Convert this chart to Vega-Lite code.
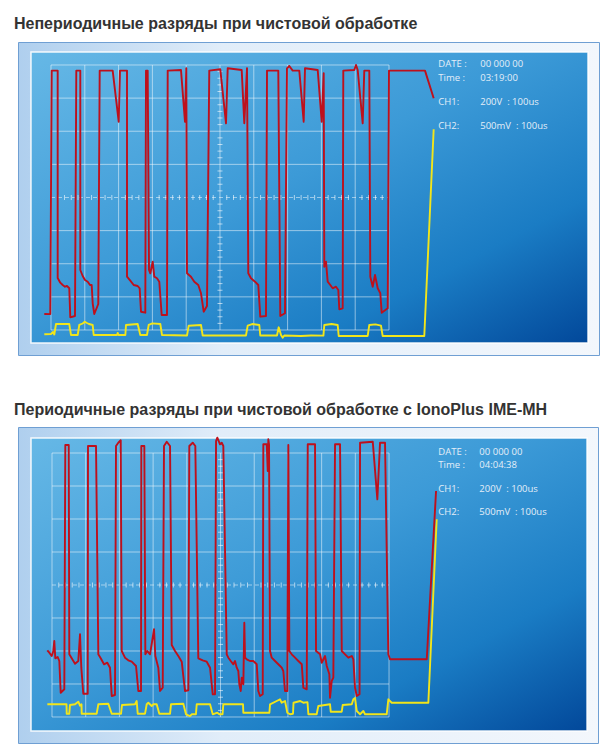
{
  "$schema": "https://vega.github.io/schema/vega-lite/v6.json",
  "background": "white",
  "padding": {"left": 13, "top": 15, "right": 8, "bottom": 8},
  "spacing": 45,
  "config": {
    "axis": {"disable": true},
    "text": {"align": "left", "baseline": "top", "font": "Open Sans", "fontSize": 9.5, "color": "#e4eef8"},
    "view": {
      "fill": {"gradient": "linear", "x1": 0, "y1": 0, "x2": 1, "y2": 0, "stops": [{"offset": 0, "color": "#afcfee"}, {"offset": 0.35, "color": "#e1edf9"}, {"offset": 1, "color": "#f3f7fc"}]},
      "stroke": "#6f9fd3",
      "strokeWidth": 1
    }
  },
  "datasets": {
    "vgrid": [{"g": 0}, {"g": 1}, {"g": 2}, {"g": 3}, {"g": 4}, {"g": 5}, {"g": 6}, {"g": 7}, {"g": 8}, {"g": 9}, {"g": 10}],
    "hgrid": [{"g": -4}, {"g": -3}, {"g": -2}, {"g": -1}, {"g": 1}, {"g": 2}, {"g": 3}, {"g": 4}],
    "xticks": [{"t": 0.2}, {"t": 0.4}, {"t": 0.6}, {"t": 0.8}, {"t": 1.2}, {"t": 1.4}, {"t": 1.6}, {"t": 1.8}, {"t": 2.2}, {"t": 2.4}, {"t": 2.6}, {"t": 2.8}, {"t": 3.2}, {"t": 3.4}, {"t": 3.6}, {"t": 3.8}, {"t": 4.2}, {"t": 4.4}, {"t": 4.6}, {"t": 4.8}, {"t": 5.2}, {"t": 5.4}, {"t": 5.6}, {"t": 5.8}, {"t": 6.2}, {"t": 6.4}, {"t": 6.6}, {"t": 6.8}, {"t": 7.2}, {"t": 7.4}, {"t": 7.6}, {"t": 7.8}, {"t": 8.2}, {"t": 8.4}, {"t": 8.6}, {"t": 8.8}, {"t": 9.2}, {"t": 9.4}, {"t": 9.6}, {"t": 9.8}],
    "yticks": [{"v": -3.8}, {"v": -3.6}, {"v": -3.4}, {"v": -3.2}, {"v": -2.8}, {"v": -2.6}, {"v": -2.4}, {"v": -2.2}, {"v": -1.8}, {"v": -1.6}, {"v": -1.4}, {"v": -1.2}, {"v": -0.8}, {"v": -0.6}, {"v": -0.4}, {"v": -0.2}, {"v": 0.2}, {"v": 0.4}, {"v": 0.6}, {"v": 0.8}, {"v": 1.2}, {"v": 1.4}, {"v": 1.6}, {"v": 1.8}, {"v": 2.2}, {"v": 2.4}, {"v": 2.6}, {"v": 2.8}, {"v": 3.2}, {"v": 3.4}, {"v": 3.6}, {"v": 3.8}],
    "trace1": [
      {"ch": "CH2", "t": -0.198, "v": -4.13}, {"ch": "CH2", "t": 0, "v": -4.12}, {"ch": "CH2", "t": 0.059, "v": -4.06}, {"ch": "CH2", "t": 0.098, "v": -4.136}, {"ch": "CH2", "t": 0.148, "v": -3.819}, {"ch": "CH2", "t": 0.541, "v": -3.819}, {"ch": "CH2", "t": 0.592, "v": -4.151}, {"ch": "CH2", "t": 0.79, "v": -4.151}, {"ch": "CH2", "t": 0.837, "v": -3.849}, {"ch": "CH2", "t": 0.938, "v": -3.804}, {"ch": "CH2", "t": 1.0, "v": -3.75}, {"ch": "CH2", "t": 1.065, "v": -3.789}, {"ch": "CH2", "t": 1.124, "v": -3.819}, {"ch": "CH2", "t": 1.234, "v": -3.849}, {"ch": "CH2", "t": 1.263, "v": -4.151}, {"ch": "CH2", "t": 1.953, "v": -4.151}, {"ch": "CH2", "t": 1.973, "v": -4.09}, {"ch": "CH2", "t": 1.997, "v": -4.151}, {"ch": "CH2", "t": 2.2, "v": -4.151}, {"ch": "CH2", "t": 2.219, "v": -3.849}, {"ch": "CH2", "t": 2.565, "v": -3.819}, {"ch": "CH2", "t": 2.642, "v": -4.151}, {"ch": "CH2", "t": 2.84, "v": -4.151}, {"ch": "CH2", "t": 2.891, "v": -3.849}, {"ch": "CH2", "t": 3.0, "v": -3.8}, {"ch": "CH2", "t": 3.234, "v": -3.819}, {"ch": "CH2", "t": 3.284, "v": -4.151}, {"ch": "CH2", "t": 4.024, "v": -4.166}, {"ch": "CH2", "t": 4.074, "v": -3.87}, {"ch": "CH2", "t": 4.438, "v": -3.849}, {"ch": "CH2", "t": 4.488, "v": -4.166}, {"ch": "CH2", "t": 5.769, "v": -4.166}, {"ch": "CH2", "t": 5.82, "v": -3.87}, {"ch": "CH2", "t": 5.95, "v": -3.82}, {"ch": "CH2", "t": 6.163, "v": -3.849}, {"ch": "CH2", "t": 6.192, "v": -4.166}, {"ch": "CH2", "t": 6.686, "v": -4.166}, {"ch": "CH2", "t": 6.737, "v": -3.919}, {"ch": "CH2", "t": 6.805, "v": -4.151}, {"ch": "CH2", "t": 6.855, "v": -4.232}, {"ch": "CH2", "t": 6.902, "v": -4.166}, {"ch": "CH2", "t": 7.396, "v": -4.181}, {"ch": "CH2", "t": 7.692, "v": -4.166}, {"ch": "CH2", "t": 8.06, "v": -4.17}, {"ch": "CH2", "t": 8.086, "v": -3.849}, {"ch": "CH2", "t": 8.3, "v": -3.82}, {"ch": "CH2", "t": 8.482, "v": -3.849}, {"ch": "CH2", "t": 8.512, "v": -4.181}, {"ch": "CH2", "t": 9.37, "v": -4.181}, {"ch": "CH2", "t": 9.417, "v": -3.849}, {"ch": "CH2", "t": 9.6, "v": -3.83}, {"ch": "CH2", "t": 9.763, "v": -3.87}, {"ch": "CH2", "t": 9.813, "v": -4.181}, {"ch": "CH2", "t": 11.044, "v": -4.181}, {"ch": "CH2", "t": 11.322, "v": 2.059},
      {"ch": "CH1", "t": -0.198, "v": -3.517}, {"ch": "CH1", "t": -0.021, "v": -3.52}, {"ch": "CH1", "t": 0.021, "v": 3.83}, {"ch": "CH1", "t": 0.198, "v": 3.83}, {"ch": "CH1", "t": 0.198, "v": -2.43}, {"ch": "CH1", "t": 0.275, "v": -2.572}, {"ch": "CH1", "t": 0.346, "v": -2.642}, {"ch": "CH1", "t": 0.414, "v": -2.693}, {"ch": "CH1", "t": 0.473, "v": -2.672}, {"ch": "CH1", "t": 0.541, "v": -2.741}, {"ch": "CH1", "t": 0.571, "v": -3.617}, {"ch": "CH1", "t": 0.71, "v": -3.577}, {"ch": "CH1", "t": 0.749, "v": 3.83}, {"ch": "CH1", "t": 0.867, "v": 3.83}, {"ch": "CH1", "t": 0.867, "v": -2.189}, {"ch": "CH1", "t": 0.938, "v": -2.37}, {"ch": "CH1", "t": 1.006, "v": -2.491}, {"ch": "CH1", "t": 1.086, "v": -2.542}, {"ch": "CH1", "t": 1.154, "v": -2.642}, {"ch": "CH1", "t": 1.204, "v": -2.642}, {"ch": "CH1", "t": 1.234, "v": -3.194}, {"ch": "CH1", "t": 1.281, "v": -3.517}, {"ch": "CH1", "t": 1.399, "v": -3.215}, {"ch": "CH1", "t": 1.441, "v": 3.83}, {"ch": "CH1", "t": 1.825, "v": 3.83}, {"ch": "CH1", "t": 2.003, "v": 2.288}, {"ch": "CH1", "t": 2.041, "v": 3.83}, {"ch": "CH1", "t": 2.249, "v": 3.83}, {"ch": "CH1", "t": 2.249, "v": -2.391}, {"ch": "CH1", "t": 2.346, "v": -2.512}, {"ch": "CH1", "t": 2.447, "v": -2.642}, {"ch": "CH1", "t": 2.565, "v": -2.672}, {"ch": "CH1", "t": 2.624, "v": -2.741}, {"ch": "CH1", "t": 2.663, "v": -3.448}, {"ch": "CH1", "t": 2.79, "v": -3.478}, {"ch": "CH1", "t": 2.811, "v": 3.83}, {"ch": "CH1", "t": 2.861, "v": 3.83}, {"ch": "CH1", "t": 2.9, "v": -2.189}, {"ch": "CH1", "t": 2.938, "v": -2.288}, {"ch": "CH1", "t": 3.009, "v": -1.938}, {"ch": "CH1", "t": 3.056, "v": -2.391}, {"ch": "CH1", "t": 3.136, "v": -2.439}, {"ch": "CH1", "t": 3.204, "v": -2.542}, {"ch": "CH1", "t": 3.275, "v": -3.547}, {"ch": "CH1", "t": 3.432, "v": -3.547}, {"ch": "CH1", "t": 3.453, "v": 3.83}, {"ch": "CH1", "t": 3.846, "v": 3.849}, {"ch": "CH1", "t": 3.964, "v": 2.288}, {"ch": "CH1", "t": 4.003, "v": 3.9}, {"ch": "CH1", "t": 4.024, "v": -2.288}, {"ch": "CH1", "t": 4.142, "v": -2.391}, {"ch": "CH1", "t": 4.24, "v": -2.542}, {"ch": "CH1", "t": 4.358, "v": -2.642}, {"ch": "CH1", "t": 4.438, "v": -2.892}, {"ch": "CH1", "t": 4.518, "v": -3.448}, {"ch": "CH1", "t": 4.615, "v": -3.276}, {"ch": "CH1", "t": 4.683, "v": 3.83}, {"ch": "CH1", "t": 5.009, "v": 3.87}, {"ch": "CH1", "t": 5.178, "v": 2.24}, {"ch": "CH1", "t": 5.228, "v": 3.9}, {"ch": "CH1", "t": 5.642, "v": 3.849}, {"ch": "CH1", "t": 5.719, "v": 2.24}, {"ch": "CH1", "t": 5.799, "v": 3.9}, {"ch": "CH1", "t": 5.837, "v": -2.288}, {"ch": "CH1", "t": 5.917, "v": -2.439}, {"ch": "CH1", "t": 6.036, "v": -2.542}, {"ch": "CH1", "t": 6.133, "v": -2.642}, {"ch": "CH1", "t": 6.192, "v": -3.598}, {"ch": "CH1", "t": 6.361, "v": -3.577}, {"ch": "CH1", "t": 6.391, "v": 3.83}, {"ch": "CH1", "t": 6.725, "v": 3.83}, {"ch": "CH1", "t": 6.784, "v": -3.577}, {"ch": "CH1", "t": 6.923, "v": -3.496}, {"ch": "CH1", "t": 6.982, "v": 3.9}, {"ch": "CH1", "t": 7.05, "v": 3.97}, {"ch": "CH1", "t": 7.151, "v": 3.83}, {"ch": "CH1", "t": 7.346, "v": 3.83}, {"ch": "CH1", "t": 7.476, "v": 2.288}, {"ch": "CH1", "t": 7.515, "v": 3.9}, {"ch": "CH1", "t": 7.891, "v": 3.849}, {"ch": "CH1", "t": 8.009, "v": 2.288}, {"ch": "CH1", "t": 8.068, "v": 3.749}, {"ch": "CH1", "t": 8.086, "v": -2.089}, {"ch": "CH1", "t": 8.136, "v": -1.938}, {"ch": "CH1", "t": 8.186, "v": -2.542}, {"ch": "CH1", "t": 8.263, "v": -2.642}, {"ch": "CH1", "t": 8.334, "v": -2.741}, {"ch": "CH1", "t": 8.432, "v": -2.693}, {"ch": "CH1", "t": 8.5, "v": -2.792}, {"ch": "CH1", "t": 8.53, "v": -3.375}, {"ch": "CH1", "t": 8.63, "v": -3.345}, {"ch": "CH1", "t": 8.648, "v": 3.83}, {"ch": "CH1", "t": 8.973, "v": 3.849}, {"ch": "CH1", "t": 9.024, "v": 4.0}, {"ch": "CH1", "t": 9.074, "v": 3.849}, {"ch": "CH1", "t": 9.222, "v": 2.24}, {"ch": "CH1", "t": 9.269, "v": 3.83}, {"ch": "CH1", "t": 9.417, "v": 3.83}, {"ch": "CH1", "t": 9.447, "v": -2.391}, {"ch": "CH1", "t": 9.518, "v": -2.693}, {"ch": "CH1", "t": 9.586, "v": -2.34}, {"ch": "CH1", "t": 9.666, "v": -2.741}, {"ch": "CH1", "t": 9.743, "v": -2.892}, {"ch": "CH1", "t": 9.784, "v": -3.478}, {"ch": "CH1", "t": 9.962, "v": -3.345}, {"ch": "CH1", "t": 10.0, "v": 3.83}, {"ch": "CH1", "t": 11.065, "v": 3.83}, {"ch": "CH1", "t": 11.322, "v": 2.995}
    ],
    "trace2": [
      {"ch": "CH2", "t": -0.139, "v": -3.615}, {"ch": "CH2", "t": 0.43, "v": -3.615}, {"ch": "CH2", "t": 0.436, "v": -3.9}, {"ch": "CH2", "t": 0.513, "v": -3.9}, {"ch": "CH2", "t": 0.534, "v": -3.636}, {"ch": "CH2", "t": 0.683, "v": -3.615}, {"ch": "CH2", "t": 0.78, "v": -3.536}, {"ch": "CH2", "t": 0.831, "v": -3.658}, {"ch": "CH2", "t": 0.875, "v": -3.615}, {"ch": "CH2", "t": 0.881, "v": -3.9}, {"ch": "CH2", "t": 1.326, "v": -3.9}, {"ch": "CH2", "t": 1.374, "v": -3.615}, {"ch": "CH2", "t": 1.671, "v": -3.597}, {"ch": "CH2", "t": 1.772, "v": -3.9}, {"ch": "CH2", "t": 2.048, "v": -3.9}, {"ch": "CH2", "t": 2.077, "v": -3.636}, {"ch": "CH2", "t": 2.463, "v": -3.615}, {"ch": "CH2", "t": 2.513, "v": -3.515}, {"ch": "CH2", "t": 2.543, "v": -3.9}, {"ch": "CH2", "t": 2.76, "v": -3.9}, {"ch": "CH2", "t": 2.81, "v": -3.615}, {"ch": "CH2", "t": 2.858, "v": -3.567}, {"ch": "CH2", "t": 2.958, "v": -3.667}, {"ch": "CH2", "t": 3.006, "v": -3.615}, {"ch": "CH2", "t": 3.106, "v": -3.615}, {"ch": "CH2", "t": 3.184, "v": -3.9}, {"ch": "CH2", "t": 3.502, "v": -3.9}, {"ch": "CH2", "t": 3.531, "v": -3.615}, {"ch": "CH2", "t": 3.896, "v": -3.597}, {"ch": "CH2", "t": 3.976, "v": -3.918}, {"ch": "CH2", "t": 4.095, "v": -3.97}, {"ch": "CH2", "t": 4.145, "v": -3.918}, {"ch": "CH2", "t": 4.27, "v": -3.918}, {"ch": "CH2", "t": 4.294, "v": -3.615}, {"ch": "CH2", "t": 4.689, "v": -3.615}, {"ch": "CH2", "t": 4.769, "v": -3.918}, {"ch": "CH2", "t": 4.905, "v": -3.87}, {"ch": "CH2", "t": 4.965, "v": -3.918}, {"ch": "CH2", "t": 5.06, "v": -3.918}, {"ch": "CH2", "t": 5.083, "v": -3.615}, {"ch": "CH2", "t": 5.667, "v": -3.615}, {"ch": "CH2", "t": 5.677, "v": -3.87}, {"ch": "CH2", "t": 6.121, "v": -3.87}, {"ch": "CH2", "t": 6.45, "v": -3.87}, {"ch": "CH2", "t": 6.469, "v": -3.615}, {"ch": "CH2", "t": 6.667, "v": -3.515}, {"ch": "CH2", "t": 6.765, "v": -3.464}, {"ch": "CH2", "t": 6.816, "v": -3.567}, {"ch": "CH2", "t": 6.914, "v": -3.515}, {"ch": "CH2", "t": 6.982, "v": -3.87}, {"ch": "CH2", "t": 7.062, "v": -3.918}, {"ch": "CH2", "t": 7.15, "v": -3.9}, {"ch": "CH2", "t": 7.166, "v": -3.567}, {"ch": "CH2", "t": 7.364, "v": -3.515}, {"ch": "CH2", "t": 7.457, "v": -3.567}, {"ch": "CH2", "t": 7.58, "v": -3.55}, {"ch": "CH2", "t": 7.606, "v": -3.918}, {"ch": "CH2", "t": 7.853, "v": -3.918}, {"ch": "CH2", "t": 7.902, "v": -3.667}, {"ch": "CH2", "t": 8.249, "v": -3.615}, {"ch": "CH2", "t": 8.27, "v": -3.839}, {"ch": "CH2", "t": 8.597, "v": -3.839}, {"ch": "CH2", "t": 8.626, "v": -3.636}, {"ch": "CH2", "t": 8.894, "v": -3.615}, {"ch": "CH2", "t": 8.941, "v": -3.464}, {"ch": "CH2", "t": 8.991, "v": -3.424}, {"ch": "CH2", "t": 9.042, "v": -3.818}, {"ch": "CH2", "t": 9.14, "v": -3.918}, {"ch": "CH2", "t": 9.237, "v": -3.818}, {"ch": "CH2", "t": 9.288, "v": -3.918}, {"ch": "CH2", "t": 9.931, "v": -3.918}, {"ch": "CH2", "t": 9.979, "v": -3.464}, {"ch": "CH2", "t": 10.08, "v": -3.567}, {"ch": "CH2", "t": 11.166, "v": -3.567}, {"ch": "CH2", "t": 11.414, "v": 1.991},
      {"ch": "CH1", "t": -0.139, "v": -1.979}, {"ch": "CH1", "t": -0.08, "v": -2.052}, {"ch": "CH1", "t": -0.009, "v": -2.152}, {"ch": "CH1", "t": 0.039, "v": -2.0}, {"ch": "CH1", "t": 0.068, "v": -1.697}, {"ch": "CH1", "t": 0.098, "v": -2.221}, {"ch": "CH1", "t": 0.169, "v": -2.182}, {"ch": "CH1", "t": 0.217, "v": -2.303}, {"ch": "CH1", "t": 0.258, "v": -3.264}, {"ch": "CH1", "t": 0.365, "v": -3.161}, {"ch": "CH1", "t": 0.395, "v": 4.242}, {"ch": "CH1", "t": 0.496, "v": 4.242}, {"ch": "CH1", "t": 0.513, "v": -2.1}, {"ch": "CH1", "t": 0.585, "v": -2.221}, {"ch": "CH1", "t": 0.683, "v": -2.385}, {"ch": "CH1", "t": 0.78, "v": -2.303}, {"ch": "CH1", "t": 0.831, "v": -1.494}, {"ch": "CH1", "t": 0.869, "v": -2.506}, {"ch": "CH1", "t": 0.929, "v": -3.294}, {"ch": "CH1", "t": 1.059, "v": -3.294}, {"ch": "CH1", "t": 1.068, "v": 4.212}, {"ch": "CH1", "t": 1.306, "v": 4.212}, {"ch": "CH1", "t": 1.374, "v": -2.1}, {"ch": "CH1", "t": 1.445, "v": -2.221}, {"ch": "CH1", "t": 1.543, "v": -2.403}, {"ch": "CH1", "t": 1.641, "v": -2.355}, {"ch": "CH1", "t": 1.721, "v": -2.506}, {"ch": "CH1", "t": 1.772, "v": -3.364}, {"ch": "CH1", "t": 1.869, "v": -3.333}, {"ch": "CH1", "t": 1.899, "v": 4.212}, {"ch": "CH1", "t": 1.967, "v": 4.312}, {"ch": "CH1", "t": 2.039, "v": 4.385}, {"ch": "CH1", "t": 2.068, "v": -2.0}, {"ch": "CH1", "t": 2.166, "v": -2.203}, {"ch": "CH1", "t": 2.264, "v": -2.282}, {"ch": "CH1", "t": 2.365, "v": -2.324}, {"ch": "CH1", "t": 2.493, "v": -2.455}, {"ch": "CH1", "t": 2.561, "v": -3.212}, {"ch": "CH1", "t": 2.641, "v": -3.212}, {"ch": "CH1", "t": 2.65, "v": 4.212}, {"ch": "CH1", "t": 2.739, "v": 4.212}, {"ch": "CH1", "t": 2.769, "v": -2.1}, {"ch": "CH1", "t": 2.828, "v": -2.0}, {"ch": "CH1", "t": 2.908, "v": -2.1}, {"ch": "CH1", "t": 3.027, "v": -1.342}, {"ch": "CH1", "t": 3.065, "v": -2.152}, {"ch": "CH1", "t": 3.154, "v": -2.506}, {"ch": "CH1", "t": 3.205, "v": -3.212}, {"ch": "CH1", "t": 3.285, "v": -3.112}, {"ch": "CH1", "t": 3.323, "v": 4.212}, {"ch": "CH1", "t": 3.404, "v": 4.342}, {"ch": "CH1", "t": 3.502, "v": 4.212}, {"ch": "CH1", "t": 3.552, "v": -1.818}, {"ch": "CH1", "t": 3.65, "v": -2.0}, {"ch": "CH1", "t": 3.748, "v": -2.152}, {"ch": "CH1", "t": 3.849, "v": -2.324}, {"ch": "CH1", "t": 3.896, "v": -2.758}, {"ch": "CH1", "t": 3.947, "v": -3.212}, {"ch": "CH1", "t": 4.045, "v": -3.191}, {"ch": "CH1", "t": 4.074, "v": 4.212}, {"ch": "CH1", "t": 4.175, "v": 4.312}, {"ch": "CH1", "t": 4.252, "v": 4.212}, {"ch": "CH1", "t": 4.341, "v": -2.221}, {"ch": "CH1", "t": 4.472, "v": -2.282}, {"ch": "CH1", "t": 4.591, "v": -2.324}, {"ch": "CH1", "t": 4.689, "v": -2.506}, {"ch": "CH1", "t": 4.769, "v": -3.312}, {"ch": "CH1", "t": 4.837, "v": -3.312}, {"ch": "CH1", "t": 4.867, "v": 4.364}, {"ch": "CH1", "t": 4.905, "v": 4.464}, {"ch": "CH1", "t": 4.985, "v": 4.264}, {"ch": "CH1", "t": 5.036, "v": 4.312}, {"ch": "CH1", "t": 5.083, "v": 4.212}, {"ch": "CH1", "t": 5.184, "v": -2.1}, {"ch": "CH1", "t": 5.232, "v": -2.203}, {"ch": "CH1", "t": 5.303, "v": -2.303}, {"ch": "CH1", "t": 5.38, "v": -2.403}, {"ch": "CH1", "t": 5.43, "v": -2.303}, {"ch": "CH1", "t": 5.481, "v": -2.506}, {"ch": "CH1", "t": 5.528, "v": -2.606}, {"ch": "CH1", "t": 5.558, "v": -3.009}, {"ch": "CH1", "t": 5.6, "v": -3.212}, {"ch": "CH1", "t": 5.629, "v": -2.809}, {"ch": "CH1", "t": 5.677, "v": -3.009}, {"ch": "CH1", "t": 5.706, "v": -1.142}, {"ch": "CH1", "t": 5.727, "v": -2.203}, {"ch": "CH1", "t": 5.778, "v": -2.252}, {"ch": "CH1", "t": 5.875, "v": -2.303}, {"ch": "CH1", "t": 5.973, "v": -2.303}, {"ch": "CH1", "t": 6.074, "v": -2.403}, {"ch": "CH1", "t": 6.121, "v": -3.212}, {"ch": "CH1", "t": 6.172, "v": -3.364}, {"ch": "CH1", "t": 6.252, "v": -3.312}, {"ch": "CH1", "t": 6.27, "v": 4.264}, {"ch": "CH1", "t": 6.371, "v": 4.264}, {"ch": "CH1", "t": 6.401, "v": 3.455}, {"ch": "CH1", "t": 6.418, "v": 4.415}, {"ch": "CH1", "t": 6.439, "v": 4.264}, {"ch": "CH1", "t": 6.469, "v": -2.0}, {"ch": "CH1", "t": 6.519, "v": -2.203}, {"ch": "CH1", "t": 6.617, "v": -2.303}, {"ch": "CH1", "t": 6.715, "v": -2.403}, {"ch": "CH1", "t": 6.816, "v": -2.506}, {"ch": "CH1", "t": 6.863, "v": -2.606}, {"ch": "CH1", "t": 6.913, "v": -3.212}, {"ch": "CH1", "t": 6.982, "v": -3.212}, {"ch": "CH1", "t": 7.012, "v": 4.242}, {"ch": "CH1", "t": 7.042, "v": -2.0}, {"ch": "CH1", "t": 7.113, "v": -2.1}, {"ch": "CH1", "t": 7.211, "v": -2.203}, {"ch": "CH1", "t": 7.309, "v": -2.303}, {"ch": "CH1", "t": 7.41, "v": -2.403}, {"ch": "CH1", "t": 7.457, "v": -3.112}, {"ch": "CH1", "t": 7.558, "v": -3.161}, {"ch": "CH1", "t": 7.588, "v": 4.264}, {"ch": "CH1", "t": 7.804, "v": 4.264}, {"ch": "CH1", "t": 7.834, "v": -2.0}, {"ch": "CH1", "t": 7.953, "v": -2.1}, {"ch": "CH1", "t": 8.003, "v": -2.355}, {"ch": "CH1", "t": 8.101, "v": -2.152}, {"ch": "CH1", "t": 8.152, "v": -2.455}, {"ch": "CH1", "t": 8.229, "v": -2.706}, {"ch": "CH1", "t": 8.249, "v": -3.415}, {"ch": "CH1", "t": 8.3, "v": -2.909}, {"ch": "CH1", "t": 8.347, "v": -2.809}, {"ch": "CH1", "t": 8.398, "v": 4.264}, {"ch": "CH1", "t": 8.546, "v": 4.264}, {"ch": "CH1", "t": 8.597, "v": -2.0}, {"ch": "CH1", "t": 8.695, "v": -2.1}, {"ch": "CH1", "t": 8.793, "v": -2.203}, {"ch": "CH1", "t": 8.894, "v": -2.152}, {"ch": "CH1", "t": 8.941, "v": -2.252}, {"ch": "CH1", "t": 8.991, "v": -3.112}, {"ch": "CH1", "t": 9.042, "v": -3.364}, {"ch": "CH1", "t": 9.125, "v": -3.312}, {"ch": "CH1", "t": 9.14, "v": 4.312}, {"ch": "CH1", "t": 9.517, "v": 4.342}, {"ch": "CH1", "t": 9.653, "v": 2.597}, {"ch": "CH1", "t": 9.733, "v": 4.312}, {"ch": "CH1", "t": 9.881, "v": 4.312}, {"ch": "CH1", "t": 9.979, "v": -2.1}, {"ch": "CH1", "t": 10.03, "v": -2.252}, {"ch": "CH1", "t": 11.119, "v": -2.252}, {"ch": "CH1", "t": 11.395, "v": 2.848}
    ]
  },
  "vconcat": [
    {
      "title": {"text": "Непериодичные разряды при чистовой обработке", "anchor": "start", "dx": -4, "offset": 10, "fontSize": 16, "font": "Liberation Sans", "fontWeight": "bold", "color": "#333333"},
      "width": 581,
      "height": 313,
      "layer": [
        {
          "data": {"values": [{}]},
          "mark": {"type": "rect", "fill": {"gradient": "linear", "x1": 0, "y1": 0, "x2": 1, "y2": 1, "stops": [{"offset": 0, "color": "#66b8e6"}, {"offset": 0.45, "color": "#3c9ad7"}, {"offset": 0.75, "color": "#1a7cc4"}, {"offset": 1, "color": "#02489a"}]}, "stroke": "#ffffff", "strokeWidth": 1.5, "strokeOpacity": 0.9},
          "encoding": {
            "x": {"datum": -0.592, "type": "quantitative", "scale": {"domain": [-0.976, 16.213], "nice": false, "zero": false}, "axis": null},
            "x2": {"datum": 15.888},
            "y": {"datum": -4.392, "type": "quantitative", "scale": {"domain": [-4.755, 4.694], "nice": false, "zero": false}, "axis": null},
            "y2": {"datum": 4.392}
          }
        },
        {
          "data": {"name": "vgrid"},
          "mark": {"type": "rule", "color": "#ffffff", "opacity": 0.5, "strokeWidth": 1},
          "encoding": {
            "x": {"field": "g", "type": "quantitative", "scale": {"domain": [-0.976, 16.213], "nice": false, "zero": false}},
            "y": {"datum": -4, "type": "quantitative", "scale": {"domain": [-4.755, 4.694], "nice": false, "zero": false}},
            "y2": {"datum": 4}
          }
        },
        {
          "data": {"name": "hgrid"},
          "mark": {"type": "rule", "color": "#ffffff", "opacity": 0.5, "strokeWidth": 1},
          "encoding": {
            "y": {"field": "g", "type": "quantitative", "scale": {"domain": [-4.755, 4.694], "nice": false, "zero": false}},
            "x": {"datum": 0, "type": "quantitative", "scale": {"domain": [-0.976, 16.213], "nice": false, "zero": false}},
            "x2": {"datum": 10}
          }
        },
        {
          "data": {"values": [{}]},
          "mark": {"type": "rule", "color": "#ffffff", "opacity": 0.5, "strokeWidth": 1, "strokeDash": [4, 3]},
          "encoding": {
            "y": {"datum": 0, "type": "quantitative", "scale": {"domain": [-4.755, 4.694], "nice": false, "zero": false}},
            "x": {"datum": 0, "type": "quantitative", "scale": {"domain": [-0.976, 16.213], "nice": false, "zero": false}},
            "x2": {"datum": 10}
          }
        },
        {
          "data": {"name": "xticks"},
          "mark": {"type": "tick", "orient": "vertical", "size": 5, "thickness": 1, "color": "#ffffff", "opacity": 0.6},
          "encoding": {
            "x": {"field": "t", "type": "quantitative", "scale": {"domain": [-0.976, 16.213], "nice": false, "zero": false}},
            "y": {"datum": 0, "type": "quantitative", "scale": {"domain": [-4.755, 4.694], "nice": false, "zero": false}}
          }
        },
        {
          "data": {"name": "yticks"},
          "mark": {"type": "tick", "orient": "horizontal", "size": 5, "thickness": 1, "color": "#ffffff", "opacity": 0.6},
          "encoding": {
            "y": {"field": "v", "type": "quantitative", "scale": {"domain": [-4.755, 4.694], "nice": false, "zero": false}},
            "x": {"datum": 5, "type": "quantitative", "scale": {"domain": [-0.976, 16.213], "nice": false, "zero": false}}
          }
        },
        {
          "data": {"name": "trace1"},
          "mark": {"type": "line", "strokeWidth": 1.9, "strokeJoin": "round"},
          "encoding": {
            "x": {"field": "t", "type": "quantitative", "scale": {"domain": [-0.976, 16.213], "nice": false, "zero": false}},
            "y": {"field": "v", "type": "quantitative", "scale": {"domain": [-4.755, 4.694], "nice": false, "zero": false}},
            "color": {"field": "ch", "type": "nominal", "scale": {"domain": ["CH2", "CH1"], "range": ["#f2e51a", "#be101c"]}, "legend": null},
            "order": {"value": null}
          }
        },
        {
          "data": {"values": [{}]},
          "mark": {"type": "text", "text": "DATE :"},
          "encoding": {
            "x": {"datum": 11.46, "type": "quantitative", "scale": {"domain": [-0.976, 16.213], "nice": false, "zero": false}},
            "y": {"datum": 4.17, "type": "quantitative", "scale": {"domain": [-4.755, 4.694], "nice": false, "zero": false}}
          }
        },
        {
          "data": {"values": [{}]},
          "mark": {"type": "text", "text": "00 000 00"},
          "encoding": {
            "x": {"datum": 12.70, "type": "quantitative", "scale": {"domain": [-0.976, 16.213], "nice": false, "zero": false}},
            "y": {"datum": 4.17, "type": "quantitative", "scale": {"domain": [-4.755, 4.694], "nice": false, "zero": false}}
          }
        },
        {
          "data": {"values": [{}]},
          "mark": {"type": "text", "text": "Time :"},
          "encoding": {
            "x": {"datum": 11.46, "type": "quantitative", "scale": {"domain": [-0.976, 16.213], "nice": false, "zero": false}},
            "y": {"datum": 3.755, "type": "quantitative", "scale": {"domain": [-4.755, 4.694], "nice": false, "zero": false}}
          }
        },
        {
          "data": {"values": [{}]},
          "mark": {"type": "text", "text": "03:19:00"},
          "encoding": {
            "x": {"datum": 12.70, "type": "quantitative", "scale": {"domain": [-0.976, 16.213], "nice": false, "zero": false}},
            "y": {"datum": 3.755, "type": "quantitative", "scale": {"domain": [-4.755, 4.694], "nice": false, "zero": false}}
          }
        },
        {
          "data": {"values": [{}]},
          "mark": {"type": "text", "text": "CH1:"},
          "encoding": {
            "x": {"datum": 11.46, "type": "quantitative", "scale": {"domain": [-0.976, 16.213], "nice": false, "zero": false}},
            "y": {"datum": 3.043, "type": "quantitative", "scale": {"domain": [-4.755, 4.694], "nice": false, "zero": false}}
          }
        },
        {
          "data": {"values": [{}]},
          "mark": {"type": "text", "text": "200V\u00a0\u00a0: 100us"},
          "encoding": {
            "x": {"datum": 12.70, "type": "quantitative", "scale": {"domain": [-0.976, 16.213], "nice": false, "zero": false}},
            "y": {"datum": 3.043, "type": "quantitative", "scale": {"domain": [-4.755, 4.694], "nice": false, "zero": false}}
          }
        },
        {
          "data": {"values": [{}]},
          "mark": {"type": "text", "text": "CH2:"},
          "encoding": {
            "x": {"datum": 11.46, "type": "quantitative", "scale": {"domain": [-0.976, 16.213], "nice": false, "zero": false}},
            "y": {"datum": 2.319, "type": "quantitative", "scale": {"domain": [-4.755, 4.694], "nice": false, "zero": false}}
          }
        },
        {
          "data": {"values": [{}]},
          "mark": {"type": "text", "text": "500mV\u00a0\u00a0: 100us"},
          "encoding": {
            "x": {"datum": 12.70, "type": "quantitative", "scale": {"domain": [-0.976, 16.213], "nice": false, "zero": false}},
            "y": {"datum": 2.319, "type": "quantitative", "scale": {"domain": [-4.755, 4.694], "nice": false, "zero": false}}
          }
        }
      ]
    },
    {
      "title": {"text": "Периодичные разряды при чистовой обработке с IonoPlus IME-MH", "anchor": "start", "dx": -4, "offset": 9, "fontSize": 16, "font": "Liberation Sans", "fontWeight": "bold", "color": "#333333"},
      "width": 580,
      "height": 316,
      "layer": [
        {
          "data": {"values": [{}]},
          "mark": {"type": "rect", "fill": {"gradient": "linear", "x1": 0, "y1": 0, "x2": 1, "y2": 1, "stops": [{"offset": 0, "color": "#66b8e6"}, {"offset": 0.45, "color": "#3c9ad7"}, {"offset": 0.75, "color": "#1a7cc4"}, {"offset": 1, "color": "#02489a"}]}, "stroke": "#ffffff", "strokeWidth": 1.5, "strokeOpacity": 0.9},
          "encoding": {
            "x": {"datum": -0.623, "type": "quantitative", "scale": {"domain": [-1.009, 16.2], "nice": false, "zero": false}, "axis": null},
            "x2": {"datum": 15.875},
            "y": {"datum": -4.424, "type": "quantitative", "scale": {"domain": [-4.788, 4.788], "nice": false, "zero": false}, "axis": null},
            "y2": {"datum": 4.455}
          }
        },
        {
          "data": {"name": "vgrid"},
          "mark": {"type": "rule", "color": "#ffffff", "opacity": 0.5, "strokeWidth": 1},
          "encoding": {
            "x": {"field": "g", "type": "quantitative", "scale": {"domain": [-1.009, 16.2], "nice": false, "zero": false}},
            "y": {"datum": -4, "type": "quantitative", "scale": {"domain": [-4.788, 4.788], "nice": false, "zero": false}},
            "y2": {"datum": 4}
          }
        },
        {
          "data": {"name": "hgrid"},
          "mark": {"type": "rule", "color": "#ffffff", "opacity": 0.5, "strokeWidth": 1},
          "encoding": {
            "y": {"field": "g", "type": "quantitative", "scale": {"domain": [-4.788, 4.788], "nice": false, "zero": false}},
            "x": {"datum": 0, "type": "quantitative", "scale": {"domain": [-1.009, 16.2], "nice": false, "zero": false}},
            "x2": {"datum": 10}
          }
        },
        {
          "data": {"values": [{}]},
          "mark": {"type": "rule", "color": "#ffffff", "opacity": 0.5, "strokeWidth": 1, "strokeDash": [4, 3]},
          "encoding": {
            "y": {"datum": 0, "type": "quantitative", "scale": {"domain": [-4.788, 4.788], "nice": false, "zero": false}},
            "x": {"datum": 0, "type": "quantitative", "scale": {"domain": [-1.009, 16.2], "nice": false, "zero": false}},
            "x2": {"datum": 10}
          }
        },
        {
          "data": {"name": "xticks"},
          "mark": {"type": "tick", "orient": "vertical", "size": 5, "thickness": 1, "color": "#ffffff", "opacity": 0.6},
          "encoding": {
            "x": {"field": "t", "type": "quantitative", "scale": {"domain": [-1.009, 16.2], "nice": false, "zero": false}},
            "y": {"datum": 0, "type": "quantitative", "scale": {"domain": [-4.788, 4.788], "nice": false, "zero": false}}
          }
        },
        {
          "data": {"name": "yticks"},
          "mark": {"type": "tick", "orient": "horizontal", "size": 5, "thickness": 1, "color": "#ffffff", "opacity": 0.6},
          "encoding": {
            "y": {"field": "v", "type": "quantitative", "scale": {"domain": [-4.788, 4.788], "nice": false, "zero": false}},
            "x": {"datum": 5, "type": "quantitative", "scale": {"domain": [-1.009, 16.2], "nice": false, "zero": false}}
          }
        },
        {
          "data": {"name": "trace2"},
          "mark": {"type": "line", "strokeWidth": 1.9, "strokeJoin": "round"},
          "encoding": {
            "x": {"field": "t", "type": "quantitative", "scale": {"domain": [-1.009, 16.2], "nice": false, "zero": false}},
            "y": {"field": "v", "type": "quantitative", "scale": {"domain": [-4.788, 4.788], "nice": false, "zero": false}},
            "color": {"field": "ch", "type": "nominal", "scale": {"domain": ["CH2", "CH1"], "range": ["#f2e51a", "#be101c"]}, "legend": null},
            "order": {"value": null}
          }
        },
        {
          "data": {"values": [{}]},
          "mark": {"type": "text", "text": "DATE :"},
          "encoding": {
            "x": {"datum": 11.46, "type": "quantitative", "scale": {"domain": [-1.009, 16.2], "nice": false, "zero": false}},
            "y": {"datum": 4.19, "type": "quantitative", "scale": {"domain": [-4.788, 4.788], "nice": false, "zero": false}}
          }
        },
        {
          "data": {"values": [{}]},
          "mark": {"type": "text", "text": "00 000 00"},
          "encoding": {
            "x": {"datum": 12.68, "type": "quantitative", "scale": {"domain": [-1.009, 16.2], "nice": false, "zero": false}},
            "y": {"datum": 4.19, "type": "quantitative", "scale": {"domain": [-4.788, 4.788], "nice": false, "zero": false}}
          }
        },
        {
          "data": {"values": [{}]},
          "mark": {"type": "text", "text": "Time :"},
          "encoding": {
            "x": {"datum": 11.46, "type": "quantitative", "scale": {"domain": [-1.009, 16.2], "nice": false, "zero": false}},
            "y": {"datum": 3.795, "type": "quantitative", "scale": {"domain": [-4.788, 4.788], "nice": false, "zero": false}}
          }
        },
        {
          "data": {"values": [{}]},
          "mark": {"type": "text", "text": "04:04:38"},
          "encoding": {
            "x": {"datum": 12.68, "type": "quantitative", "scale": {"domain": [-1.009, 16.2], "nice": false, "zero": false}},
            "y": {"datum": 3.795, "type": "quantitative", "scale": {"domain": [-4.788, 4.788], "nice": false, "zero": false}}
          }
        },
        {
          "data": {"values": [{}]},
          "mark": {"type": "text", "text": "CH1:"},
          "encoding": {
            "x": {"datum": 11.46, "type": "quantitative", "scale": {"domain": [-1.009, 16.2], "nice": false, "zero": false}},
            "y": {"datum": 3.06, "type": "quantitative", "scale": {"domain": [-4.788, 4.788], "nice": false, "zero": false}}
          }
        },
        {
          "data": {"values": [{}]},
          "mark": {"type": "text", "text": "200V\u00a0\u00a0: 100us"},
          "encoding": {
            "x": {"datum": 12.68, "type": "quantitative", "scale": {"domain": [-1.009, 16.2], "nice": false, "zero": false}},
            "y": {"datum": 3.06, "type": "quantitative", "scale": {"domain": [-4.788, 4.788], "nice": false, "zero": false}}
          }
        },
        {
          "data": {"values": [{}]},
          "mark": {"type": "text", "text": "CH2:"},
          "encoding": {
            "x": {"datum": 11.46, "type": "quantitative", "scale": {"domain": [-1.009, 16.2], "nice": false, "zero": false}},
            "y": {"datum": 2.351, "type": "quantitative", "scale": {"domain": [-4.788, 4.788], "nice": false, "zero": false}}
          }
        },
        {
          "data": {"values": [{}]},
          "mark": {"type": "text", "text": "500mV\u00a0\u00a0: 100us"},
          "encoding": {
            "x": {"datum": 12.68, "type": "quantitative", "scale": {"domain": [-1.009, 16.2], "nice": false, "zero": false}},
            "y": {"datum": 2.351, "type": "quantitative", "scale": {"domain": [-4.788, 4.788], "nice": false, "zero": false}}
          }
        }
      ]
    }
  ]
}
